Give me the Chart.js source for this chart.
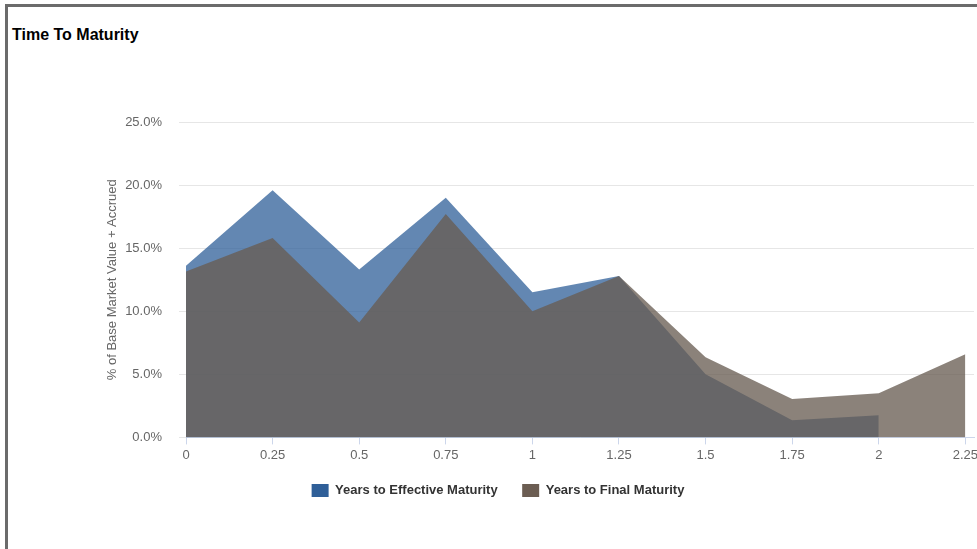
<!DOCTYPE html>
<html>
<head>
<meta charset="utf-8">
<script src="https://cdn.jsdelivr.net/npm/chart.js@4/dist/chart.umd.min.js"></script>
<style>
  html, body { margin: 0; padding: 0; background: #fff; }
  body { width: 977px; height: 549px; position: relative; overflow: hidden; font-family: "Liberation Sans", Arial, sans-serif; }
  .frame { position: absolute; left: 5px; top: 4px; width: 1000px; height: 600px; border-top: 3px solid #6b6b6b; border-left: 3px solid #6b6b6b; }
  .title { position: absolute; left: 12px; top: 26px; font-size: 16px; font-weight: bold; color: #000; }
  #wrap { position: absolute; left: 0; top: 0; width: 985px; height: 549px; }
</style>
</head>
<body>
<div class="frame"></div>
<div class="title">Time To Maturity</div>
<div id="wrap"><canvas id="chart"></canvas></div>
<script>
// x positions (years) and tick labels
const years = [0, 0.25, 0.5, 0.75, 1, 1.25, 1.5, 1.75, 2, 2.25];
const xTicks = [0, 0.25, 0.5, 0.75, 1, 1.25, 1.5, 1.75, 2, 2.25];

// % of base market value + accrued
const effectiveMaturity = [13.6, 19.6, 13.3, 19.0, 11.5, 12.8, 5.0, 1.35, 1.75];
const finalMaturity = [13.15, 15.8, 9.1, 17.7, 10.0, 12.8, 6.35, 3.05, 3.5, 6.6];

const seriesNames = ['Years to Effective Maturity', 'Years to Final Maturity'];
const legendColors = ['#2f5f98', '#6b5d52'];

function toPoints(values) {
    return values.map((v, i) => ({ x: years[i], y: v }));
}

const axisFont = { size: 13, family: '"Liberation Sans", Arial' };
const ctx = document.getElementById('chart').getContext('2d');

new Chart(ctx, {
    type: 'line',
    data: {
        datasets: [{
            label: seriesNames[0],
            data: toPoints(effectiveMaturity),
            backgroundColor: 'rgba(47, 95, 152, 0.75)',
            borderWidth: 0,
            pointRadius: 0,
            fill: 'origin',
            tension: 0,
            order: 1
        }, {
            label: seriesNames[1],
            data: toPoints(finalMaturity),
            backgroundColor: 'rgba(104, 93, 82, 0.77)',
            borderWidth: 0,
            pointRadius: 0,
            fill: 'origin',
            tension: 0,
            order: 0
        }]
    },
    options: {
        responsive: true,
        maintainAspectRatio: false,
        animation: false,
        layout: {
            padding: { top: 122, right: 11, bottom: 42, left: 22 }
        },
        scales: {
            x: {
                type: 'linear',
                min: 0,
                max: 2.275,
                afterBuildTicks: (scale) => {
                    scale.ticks = xTicks.map(v => ({ value: v }));
                },
                ticks: {
                    color: '#666',
                    font: axisFont,
                    padding: 3,
                    maxRotation: 0,
                    autoSkip: false,
                    callback: (v) => String(v)
                },
                grid: {
                    drawOnChartArea: false,
                    color: '#ccd6eb',
                    tickLength: 7
                },
                border: { color: '#ccd6eb' }
            },
            y: {
                min: 0,
                max: 25,
                afterFit: (scale) => { scale.width = 164; },
                ticks: {
                    stepSize: 5,
                    color: '#666',
                    font: axisFont,
                    padding: 17,
                    callback: (v) => v.toFixed(1) + '%'
                },
                grid: {
                    color: '#e6e6e6',
                    tickLength: 7
                },
                border: { display: false },
                title: {
                    display: true,
                    text: '% of Base Market Value + Accrued',
                    color: '#666',
                    font: axisFont,
                    padding: { top: 83, bottom: 0 }
                }
            }
        },
        plugins: {
            legend: {
                position: 'bottom',
                labels: {
                    boxWidth: 17,
                    boxHeight: 13,
                    padding: 18,
                    color: '#333',
                    font: { size: 13, weight: 'bold', family: '"Liberation Sans", Arial' },
                    sort: (a, b) => a.datasetIndex - b.datasetIndex,
                    generateLabels: (chart) => {
                        const items = Chart.defaults.plugins.legend.labels.generateLabels(chart);
                        items.forEach(item => {
                            item.fillStyle = legendColors[item.datasetIndex];
                            item.strokeStyle = legendColors[item.datasetIndex];
                            item.lineWidth = 0;
                            // a little extra room before the next item
                            if (item.datasetIndex < items.length - 1) item.text += '\u2002';
                        });
                        return items;
                    }
                }
            },
            tooltip: { enabled: false }
        }
    }
});
</script>
</body>
</html>
